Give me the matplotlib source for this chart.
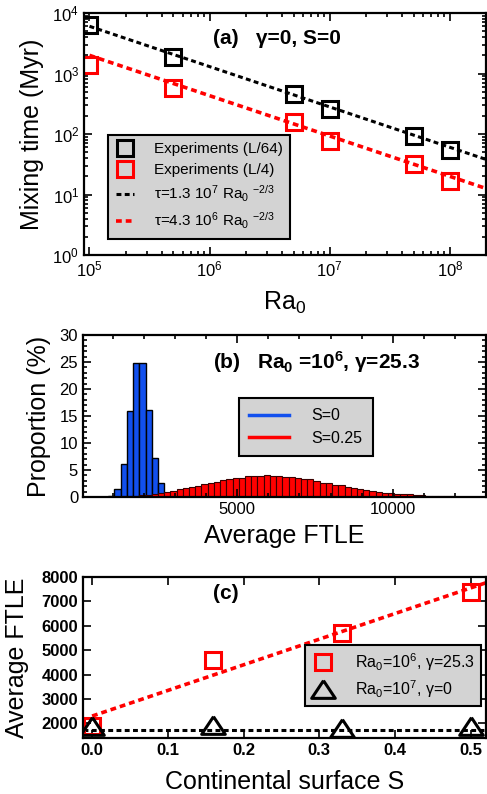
import numpy as np
import matplotlib
matplotlib.use('Agg')
import matplotlib.pyplot as plt
from matplotlib.lines import Line2D
from matplotlib.ticker import MultipleLocator, FixedLocator

plt.rcParams['font.family'] = ['Liberation Sans', 'DejaVu Sans']
plt.rcParams['mathtext.fontset'] = 'custom'
plt.rcParams['mathtext.rm'] = 'Liberation Sans'
plt.rcParams['mathtext.it'] = 'Liberation Sans:italic'
plt.rcParams['mathtext.bf'] = 'Liberation Sans:bold'

# (a) mixing time vs Ra0
ra0 = [1e5, 5e5, 5e6, 1e7, 5e7, 1e8]
t_l64 = [6400, 1850, 455, 263, 91, 55]
t_l4 = [1360, 575, 158, 78, 31.5, 16.6]
coef_l64 = 1.3e7
coef_l4 = 4.3e6
expo = -2.0 / 3.0

# (b) FTLE histograms (bin width 200)
bin_width = 200
blue_start = 450
prop_s0 = [0.05, 0.05, 0.1, 1.4, 6.2, 15.9, 24.9, 24.8, 16.1, 7.3, 2.5]
red_start = 1050
prop_s025 = [0.05, 0.1, 0.15, 0.25, 0.35, 0.45, 0.6, 0.75, 1.0, 1.15,
             1.4, 1.6, 1.85, 2.1, 2.4, 2.6, 2.85, 3.1, 3.4, 3.45,
             3.6, 3.8, 3.9, 3.95, 4.0, 3.95, 3.9, 3.75, 3.65, 3.6,
             3.4, 3.3, 3.0, 2.65, 2.5, 2.3, 2.15, 1.9, 1.6, 1.4,
             1.25, 1.05, 0.9, 0.8, 0.7, 0.6, 0.5, 0.5, 0.4, 0.3,
             0.25, 0.2, 0.2, 0.15, 0.1, 0.05]

# (c) average FTLE vs continental surface
surf = [0.0, 0.16, 0.33, 0.5]
ftle_ra6 = [1900, 4600, 5700, 7400]
ftle_ra7 = [1900, 1920, 1820, 1900]
ftle_ra7_level = 1720

W, H = 487, 794
fig = plt.figure(figsize=(W / 100, H / 100), dpi=100)

def style(ax):
    ax.tick_params(which='both', direction='in', top=True, right=True, width=1.2, colors='black')
    ax.tick_params(which='major', length=6, labelsize=12)
    ax.tick_params(which='minor', length=3)
    for s in ax.spines.values():
        s.set_linewidth(1.6)

dash = (0, (1.6, 1.1))

# ---------------- (a)
ax = fig.add_axes([84 / W, 1 - 255 / H, 402 / W, 242 / H])
ax.set_xscale('log')
ax.set_yscale('log')
xs = np.logspace(5, np.log10(2e8), 50)
ax.plot(xs, coef_l64 * xs ** expo, color='black', lw=2.2, ls=dash)
ax.plot(xs, coef_l4 * xs ** expo, color='red', lw=2.6, ls=dash)
ax.plot(ra0, t_l64, 's', mfc='none', mec='black', ms=11, mew=2.2, ls='none')
ax.plot(ra0, t_l4, 's', mfc='none', mec='red', ms=11, mew=2.2, ls='none')
ax.set_xlim(9e4, 2e8)
ax.set_ylim(1, 1e4)
style(ax)
ax.set_xlabel('Ra$_0$', fontsize=18, labelpad=7)
ax.set_ylabel('Mixing time (Myr)', fontsize=18, labelpad=6)
ax.text(0.32, 0.895, '(a)   γ=0, S=0', transform=ax.transAxes, fontsize=15,
        fontweight='bold', va='center', ha='left')
handles = [
    Line2D([], [], marker='s', mfc='none', mec='black', ms=11, mew=2.2, ls='none'),
    Line2D([], [], marker='s', mfc='none', mec='red', ms=11, mew=2.2, ls='none'),
    Line2D([], [], color='black', lw=2.2, ls=dash),
    Line2D([], [], color='red', lw=2.6, ls=dash),
]
labels = ['Experiments (L/64)', 'Experiments (L/4)',
          'τ=1.3 10$^7$ Ra$_0$ ${}^{-2/3}$', 'τ=4.3 10$^6$ Ra$_0$ ${}^{-2/3}$']
leg = ax.legend(handles, labels, loc='lower left', bbox_to_anchor=(0.06, 0.066),
                borderaxespad=0, fontsize=11, handlelength=1.2, handletextpad=1.3,
                labelspacing=0.45, borderpad=0.5, fancybox=False, framealpha=1,
                facecolor='#d3d3d3', edgecolor='black')
leg.get_frame().set_linewidth(1.5)

# ---------------- (b)
ax = fig.add_axes([83 / W, 1 - 497 / H, 403 / W, 162 / H])
blue_x = blue_start + bin_width * np.arange(len(prop_s0))
red_x = red_start + bin_width * np.arange(len(prop_s025))
ax.bar(blue_x, prop_s0, width=bin_width, align='edge', color='#1250ee',
       edgecolor='black', linewidth=1.0)
ax.bar(red_x, prop_s025, width=bin_width, align='edge', color='#ff0000',
       edgecolor='#3a0000', linewidth=0.8)
ax.set_xlim(40, 13000)
ax.set_ylim(0, 30)
ax.xaxis.set_major_locator(FixedLocator([5000, 10000]))
ax.xaxis.set_minor_locator(MultipleLocator(1000))
ax.yaxis.set_major_locator(MultipleLocator(5))
ax.yaxis.set_minor_locator(MultipleLocator(1))
style(ax)
ax.set_xlabel('Average FTLE', fontsize=18, labelpad=5)
ax.set_ylabel('Proportion (%)', fontsize=18, labelpad=6)
ax.text(0.322, 0.833, '(b)   Ra$_\\mathbf{0}$ =10$^\\mathbf{6}$, γ=25.3', transform=ax.transAxes,
        fontsize=15, fontweight='bold', va='center', ha='left')
handles = [Line2D([], [], color='#1250ee', lw=2.5), Line2D([], [], color='red', lw=2.5)]
leg = ax.legend(handles, ['S=0', 'S=0.25'], loc='lower left', bbox_to_anchor=(0.386, 0.253),
                borderaxespad=0, fontsize=11.5, handlelength=2.5, handletextpad=1.4,
                labelspacing=0.45, borderpad=0.65, fancybox=False, framealpha=1,
                facecolor='#d3d3d3', edgecolor='black')
leg.get_frame().set_linewidth(1.5)

# ---------------- (c)
ax = fig.add_axes([83 / W, 1 - 738 / H, 403 / W, 161 / H])
slope, icpt = np.polyfit(surf, ftle_ra6, 1)
xs = np.array([0.0, 0.52])
ax.plot(xs, icpt + slope * xs, color='red', lw=2.6, ls=dash)
ax.axhline(ftle_ra7_level, color='black', lw=2.2, ls=dash)
tri = [(0, 0.75), (-1, -0.75), (1, -0.75), (0, 0.75)]
ax.plot(surf, ftle_ra6, 's', mfc='none', mec='red', ms=12, mew=2.2, ls='none')
ax.plot(surf, ftle_ra7, marker=tri, mfc='none', mec='black', ms=17, mew=2.2, ls='none')
ax.set_xlim(-0.012, 0.52)
ax.set_ylim(1400, 8000)
ax.xaxis.set_major_locator(MultipleLocator(0.1))
ax.yaxis.set_major_locator(MultipleLocator(1000))
style(ax)
for lab in ax.get_xticklabels() + ax.get_yticklabels():
    lab.set_fontweight('bold')
ax.xaxis.set_major_formatter(plt.FormatStrFormatter('%.1f'))
ax.set_xlabel('Continental surface S', fontsize=18, labelpad=9)
ax.set_ylabel('Average FTLE', fontsize=18, labelpad=9)
ax.text(0.322, 0.90, '(c)', transform=ax.transAxes, fontsize=15,
        fontweight='bold', va='center', ha='left')
handles = [Line2D([], [], marker='s', mfc='none', mec='red', ms=12, mew=2.2, ls='none'),
           Line2D([], [], marker=tri, mfc='none', mec='black', ms=17, mew=2.2, ls='none')]
leg = ax.legend(handles, ['Ra$_0$=10$^6$, γ=25.3', 'Ra$_0$=10$^7$, γ=0'],
                loc='lower left', bbox_to_anchor=(0.552, 0.199), borderaxespad=0,
                fontsize=11.5, handlelength=1.4, handletextpad=1.3, labelspacing=0.3,
                borderpad=0.4, fancybox=False, framealpha=1,
                facecolor='#d3d3d3', edgecolor='black')
leg.get_frame().set_linewidth(1.5)

fig.savefig('out.png', dpi=100)
